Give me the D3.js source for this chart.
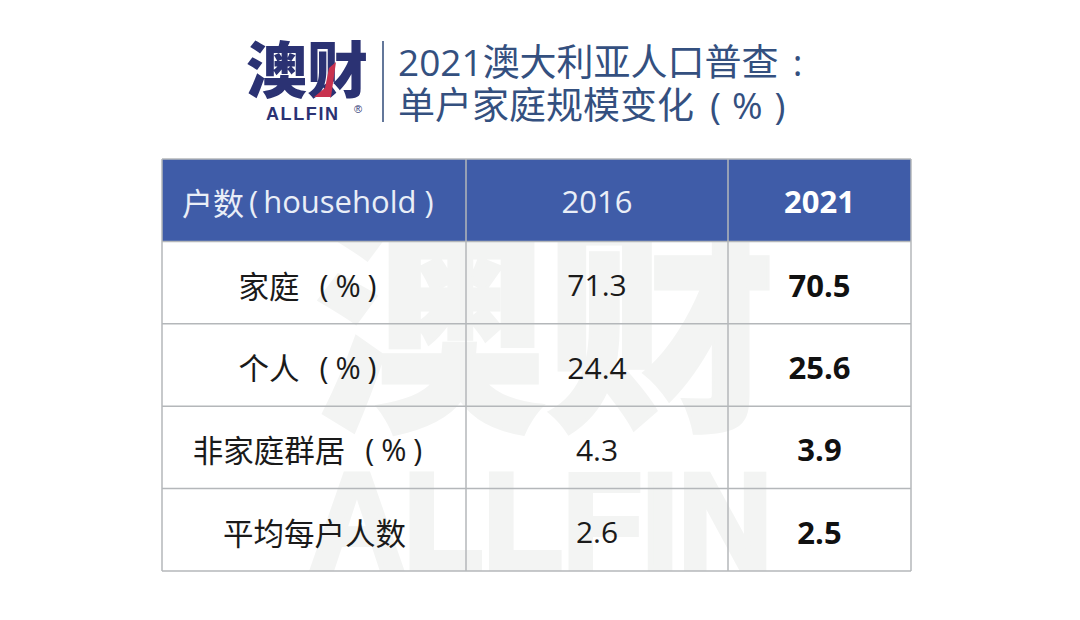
<!doctype html>
<html>
<head>
<meta charset="UTF-8">
<title>2021澳大利亚人口普查</title>
<script src="https://cdn.jsdelivr.net/npm/d3@7"></script>
<style>
    html, body { margin: 0; padding: 0; background: #fff; overflow: hidden; }
    svg { display: block; }
    text { font-family: "Noto Sans CJK SC", "Noto Sans", sans-serif; }
    .num { font-family: "Open Sans", "Noto Sans", sans-serif; }
</style>
</head>
<body>
<div id="chart"></div>
<script>
const titleLine1 = ["2021", "澳大利亚人口普查", ":"];
const titleLine2 = ["单户家庭规模变化", "(", "%", ")"];
const headers = ["户数", "household", "2016", "2021"];
const categories = ["家庭", "个人", "非家庭群居", "平均每户人数"];
const units = ["(%)", "(%)", "(%)", ""];
const values2016 = ["71.3", "24.4", "4.3", "2.6"];
const values2021 = ["70.5", "25.6", "3.9", "2.5"];

const width = 1080, height = 620;
const colEdges = [162, 466, 728, 911];
const tableTop = 159, tableBottom = 571;

const svg = d3.select("#chart").append("svg")
    .attr("width", width)
    .attr("height", height);

// watermark behind the table
const wm = svg.append("g").attr("fill", "#f3f4f3").attr("stroke", "#f3f4f3");
wm.append("text").attr("x", 314).attr("y", 412)
    .attr("font-size", 236).attr("font-weight", 900).attr("stroke-width", 3)
    .attr("textLength", 462).attr("lengthAdjust", "spacingAndGlyphs")
    .text("澳财");
wm.append("text").attr("x", 310).attr("y", 568)
    .style("font-family", "'Liberation Sans'")
    .attr("font-size", 136).attr("font-weight", 700).attr("stroke-width", 6)
    .attr("textLength", 462).attr("lengthAdjust", "spacingAndGlyphs")
    .text("ALLFIN");

// logo
const logo = svg.append("g");
logo.append("text").attr("x", 246).attr("y", 93)
    .attr("font-size", 61).attr("font-weight", 900).attr("fill", "#2b3273")
    .text("澳财");
logo.append("path").attr("d", "M314 97 L331 97 L336 62 L329 68 L325 88 Z").attr("fill", "#c8324f");
logo.append("text").attr("x", 266).attr("y", 120)
    .style("font-family", "'Liberation Sans'")
    .attr("font-size", 18).attr("font-weight", 700).attr("letter-spacing", 1.6)
    .attr("fill", "#2b3273")
    .text("ALLFIN");
logo.append("text").attr("x", 354).attr("y", 113)
    .style("font-family", "'Liberation Sans'")
    .attr("font-size", 11).attr("fill", "#2b3273").text("®");
svg.append("line").attr("x1", 383).attr("x2", 383).attr("y1", 41).attr("y2", 122)
    .attr("stroke", "#2f4a78").attr("stroke-width", 1.5);

// title
const title = svg.append("g").attr("fill", "#34507f").attr("font-size", 37);
const t1 = title.append("text").attr("x", 398).attr("y", 76);
t1.append("tspan").attr("class", "num").text(titleLine1[0]);
t1.append("tspan").text(titleLine1[1]);
t1.append("tspan").attr("class", "num").attr("dx", 14).text(titleLine1[2]);
const t2 = title.append("text").attr("x", 398).attr("y", 119);
t2.append("tspan").text(titleLine2[0]);
t2.append("tspan").attr("class", "num").attr("dx", 16).text(titleLine2[1]);
t2.append("tspan").attr("class", "num").attr("dx", 11).text(titleLine2[2]);
t2.append("tspan").attr("class", "num").attr("dx", 12).text(titleLine2[3]);

// table scales
const rowKeys = ["header", ...categories];
const y = d3.scaleBand().domain(rowKeys).range([tableTop, tableBottom]);
const colKeys = d3.range(3);
const colLeft = d3.scaleOrdinal().domain(colKeys).range(colEdges.slice(0, 3));
const colRight = d3.scaleOrdinal().domain(colKeys).range(colEdges.slice(1));
const colMid = i => (colLeft(i) + colRight(i)) / 2;

svg.append("rect")
    .attr("x", colEdges[0]).attr("y", y("header"))
    .attr("width", colEdges[3] - colEdges[0]).attr("height", y.bandwidth())
    .attr("fill", "#3f5ca8");

// grid lines
svg.selectAll("line.h").data(d3.range(rowKeys.length + 1)).join("line")
    .attr("class", "h")
    .attr("x1", colEdges[0]).attr("x2", colEdges[3])
    .attr("y1", i => tableTop + i * y.step()).attr("y2", i => tableTop + i * y.step())
    .attr("stroke", "#b4b7ba").attr("stroke-width", 1.5);
svg.selectAll("line.v").data(colEdges).join("line")
    .attr("class", "v")
    .attr("x1", d => d).attr("x2", d => d)
    .attr("y1", tableTop).attr("y2", tableBottom)
    .attr("stroke", "#b4b7ba").attr("stroke-width", 1.5);

// header row
const headY = y("header") + y.bandwidth() / 2 + 1;
const headText = svg.append("text")
    .attr("x", colLeft(0) + 20).attr("y", headY)
    .attr("dominant-baseline", "central")
    .attr("fill", "#e9eef7").attr("font-size", 31);
headText.append("tspan").text(headers[0]);
headText.append("tspan").attr("class", "num").attr("dx", 5).text("(");
headText.append("tspan").attr("class", "num").attr("dx", 5).text(headers[1]);
headText.append("tspan").attr("class", "num").attr("dx", 8).text(")");
svg.append("text").attr("class", "num")
    .attr("x", colMid(1)).attr("y", headY)
    .attr("text-anchor", "middle").attr("dominant-baseline", "central")
    .attr("fill", "#e9eef7").attr("font-size", 31)
    .text(headers[2]);
svg.append("text").attr("class", "num")
    .attr("x", colMid(2)).attr("y", headY)
    .attr("text-anchor", "middle").attr("dominant-baseline", "central")
    .attr("fill", "#fff").attr("font-size", 31).attr("font-weight", 700)
    .text(headers[3]);

// body rows
const rowMid = d => y(d) + y.bandwidth() / 2 + 2;
const catText = svg.selectAll("text.cat").data(categories).join("text")
    .attr("class", "cat")
    .attr("x", (d, i) => colMid(0) - (units[i] ? 3 : -0.5))
    .attr("y", rowMid)
    .attr("text-anchor", "middle").attr("dominant-baseline", "central")
    .attr("font-size", 30.5).attr("fill", "#1a1a1a");
catText.append("tspan").text(d => d);
catText.append("tspan").attr("class", "num")
    .attr("dx", 20).attr("letter-spacing", 7)
    .text((d, i) => units[i]);
svg.selectAll("text.v16").data(values2016).join("text")
    .attr("class", "v16 num")
    .attr("x", colMid(1))
    .attr("y", (d, i) => rowMid(categories[i]))
    .attr("text-anchor", "middle").attr("dominant-baseline", "central")
    .attr("font-size", 30).attr("fill", "#1a1a1a")
    .text(d => d);
svg.selectAll("text.v21").data(values2021).join("text")
    .attr("class", "v21 num")
    .attr("x", colMid(2))
    .attr("y", (d, i) => rowMid(categories[i]))
    .attr("text-anchor", "middle").attr("dominant-baseline", "central")
    .attr("font-size", 31).attr("font-weight", 700).attr("fill", "#111")
    .text(d => d);
</script>
</body>
</html>
